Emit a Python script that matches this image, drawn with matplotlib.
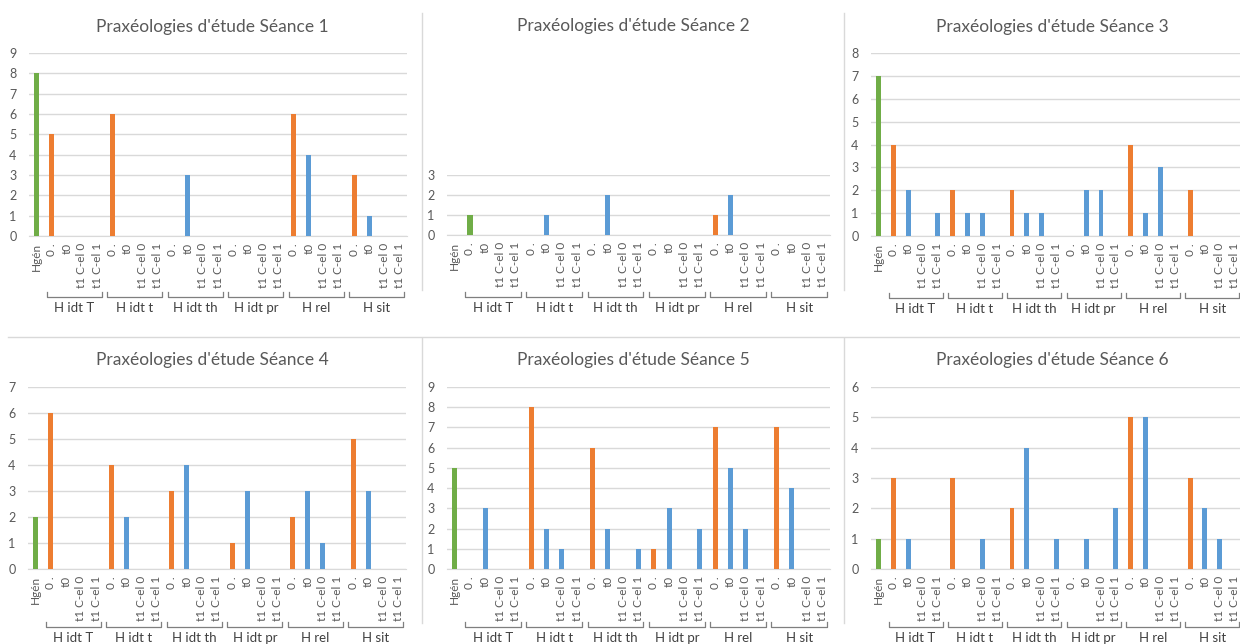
import matplotlib
matplotlib.use("Agg")
import matplotlib.pyplot as plt
from matplotlib.lines import Line2D

plt.rcParams['font.family'] = ['Lato', 'DejaVu Sans']

# categories
groups = ["H idt T", "H idt t", "H idt th", "H idt pr", "H rel", "H sit"]
sub_labels = ["0 .", "t0", "t1 C-el 0", "t1 C-el 1"]
categories = ["Hgén"] + sub_labels * len(groups)

# values per seance: Hgén then 4 values per group
seance1 = [8, 5, 0, 0, 0, 6, 0, 0, 0, 0, 3, 0, 0, 0, 0, 0, 0, 6, 4, 0, 0, 3, 1, 0, 0]
seance2 = [0, 1, 0, 0, 0, 0, 1, 0, 0, 0, 2, 0, 0, 0, 0, 0, 0, 1, 2, 0, 0, 0, 0, 0, 0]
seance3 = [7, 4, 2, 0, 1, 2, 1, 1, 0, 2, 1, 1, 0, 0, 2, 2, 0, 4, 1, 3, 0, 2, 0, 0, 0]
seance4 = [2, 6, 0, 0, 0, 4, 2, 0, 0, 3, 4, 0, 0, 1, 3, 0, 0, 2, 3, 1, 0, 5, 3, 0, 0]
seance5 = [5, 0, 3, 0, 0, 8, 2, 1, 0, 6, 2, 0, 1, 1, 3, 0, 2, 7, 5, 2, 0, 7, 4, 0, 0]
seance6 = [1, 3, 1, 0, 0, 3, 0, 1, 0, 2, 4, 0, 1, 0, 1, 0, 2, 5, 5, 0, 0, 3, 2, 1, 0]
all_values = [seance1, seance2, seance3, seance4, seance5, seance6]
titles = ["Praxéologies d'étude Séance %d" % i for i in range(1, 7)]
y_max = [9, 3, 8, 7, 9, 6]

GREEN = "#70AD47"
ORANGE = "#ED7D31"
BLUE = "#5B9BD5"
GRID = "#D9D9D9"
TXT = "#595959"

# in seance 2 the green bar sits on the first "0 ." slot
green_override = {1: [1]}

W, H = 1240, 644
fig = plt.figure(figsize=(W / 100, H / 100), dpi=100)

def fx(px):
    return px / W

def fy(py):
    return 1 - py / H

# plot boxes in pixels: left, right, top (y_max), bottom (0)
boxes = [(29, 407, 53, 236), (447, 830, 175, 235), (871, 1242, 53, 236),
         (28, 406, 387, 569), (447, 830, 387, 569), (871, 1242, 387, 569)]
title_pos = [(212, 27), (633, 26), (1052, 27), (212, 360), (633, 360), (1052, 360)]
bracket_y = [297, 297, 298, 627, 627, 627]

# chart borders
for x in (422, 844):
    fig.add_artist(Line2D([fx(x), fx(x)], [fy(13), fy(290)], color=GRID, lw=1))
    fig.add_artist(Line2D([fx(x), fx(x)], [fy(338), fy(623)], color=GRID, lw=1))
fig.add_artist(Line2D([fx(8), fx(1240)], [fy(337), fy(337)], color=GRID, lw=1))

for i, vals in enumerate(all_values):
    l, r, t, b = boxes[i]
    ax = fig.add_axes([fx(l), fy(b), fx(r) - fx(l), (b - t) / H])
    colors = []
    for k in range(len(categories)):
        if k == 0:
            colors.append(GREEN)
        elif (k - 1) % 4 == 0:
            colors.append(ORANGE)
        else:
            colors.append(BLUE)
    for k in green_override.get(i, []):
        colors[k] = GREEN
    xs = list(range(len(categories)))
    ax.bar(xs, vals, width=0.33, color=colors, zorder=3)
    ax.set_xlim(-0.5, len(categories) - 0.5)
    ax.set_ylim(0, y_max[i])
    ax.set_yticks(range(0, y_max[i] + 1))
    ax.set_xticks(xs)
    ax.set_xticklabels(categories, rotation=90, fontsize=8.5, color=TXT)
    ax.tick_params(axis='both', length=0, colors=TXT)
    ax.tick_params(axis='y', labelsize=9, pad=9)
    ax.tick_params(axis='x', pad=5)
    ax.grid(axis='y', color=GRID, lw=1, zorder=0)
    for s in ['top', 'left', 'right']:
        ax.spines[s].set_visible(False)
    ax.spines['bottom'].set_color(GRID)
    ax.set_facecolor('none')

    # group brackets under the tick labels
    tr = ax.get_xaxis_transform()
    yb = (b - bracket_y[i]) / (b - t)
    yu = (b - bracket_y[i] + 5) / (b - t)
    yl = (b - bracket_y[i] - 11) / (b - t)
    for g, name in enumerate(groups):
        x0 = 0.5 + 4 * g + 0.18
        x1 = 4.5 + 4 * g - 0.18
        ax.plot([x0, x0, x1, x1], [yu, yb, yb, yu], transform=tr,
                color="#7F7F7F", lw=0.9, clip_on=False)
        ax.text((x0 + x1) / 2, yl, name, transform=tr, ha='center', va='center',
                fontsize=9.5, color="#404040")

    fig.text(fx(title_pos[i][0]), fy(title_pos[i][1]), titles[i],
             ha='center', va='center', fontsize=12.5, color=TXT)

fig.savefig("out.png", dpi=100)
